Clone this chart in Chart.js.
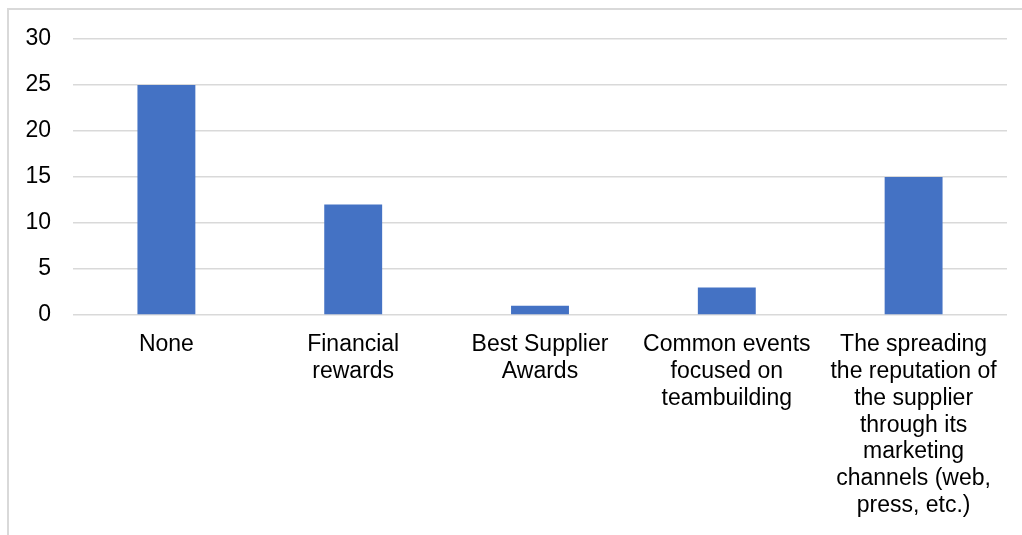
<!DOCTYPE html>
<html>
<head>
<meta charset="utf-8">
<script src="https://cdn.jsdelivr.net/npm/chart.js@4"></script>
<style>
  html, body { margin: 0; padding: 0; background: #fff; }
  #wrap { position: relative; width: 1022px; height: 535px; overflow: hidden; }
  #frame { position: absolute; left: 7px; top: 8px; width: 1100px; height: 700px; border: 2px solid #d9d9d9; box-sizing: border-box; }
  canvas { position: absolute; left: 0; top: 0; }
</style>
</head>
<body>
<div id="wrap">
  <div id="frame"></div>
  <canvas id="c" width="1022" height="535"></canvas>
</div>
<script>
const categories = [
  ["None"],
  ["Financial", "rewards"],
  ["Best Supplier", "Awards"],
  ["Common events", "focused on", "teambuilding"],
  ["The spreading", "the reputation of", "the supplier", "through its", "marketing", "channels (web,", "press, etc.)"]
];
const values = [25, 12, 1, 3, 15];
const yTicks = [0, 5, 10, 15, 20, 25, 30];

const FONT = "'Liberation Sans', Arial, sans-serif";

new Chart(document.getElementById('c'), {
  type: 'bar',
  data: {
    labels: categories,
    datasets: [{
      data: values,
      backgroundColor: '#4472c4',
      borderWidth: 0,
      categoryPercentage: 1.0,
      barPercentage: 0.31
    }]
  },
  options: {
    responsive: false,
    animation: false,
    events: [],
    layout: { padding: { top: 39, right: 15, bottom: 0, left: 0 } },
    plugins: { legend: { display: false }, tooltip: { enabled: false } },
    scales: {
      x: {
        grid: { display: false, drawTicks: false },
        border: { display: false },
        ticks: {
          color: '#000',
          font: { family: FONT, size: 23, lineHeight: 1.17 },
          padding: 16,
          maxRotation: 0,
          autoSkip: false
        },
        afterFit: (s) => { s.height = 220; }
      },
      y: {
        min: 0, max: 30,
        afterBuildTicks: (s) => { s.ticks = yTicks.map(v => ({ value: v })); },
        grid: { color: '#d9d9d9', lineWidth: 1.5, drawTicks: false },
        border: { display: false },
        ticks: {
          color: '#000',
          font: { family: FONT, size: 23 },
          padding: 22
        },
        afterFit: (s) => { s.width = 73; }
      }
    }
  }
});
</script>
</body>
</html>
